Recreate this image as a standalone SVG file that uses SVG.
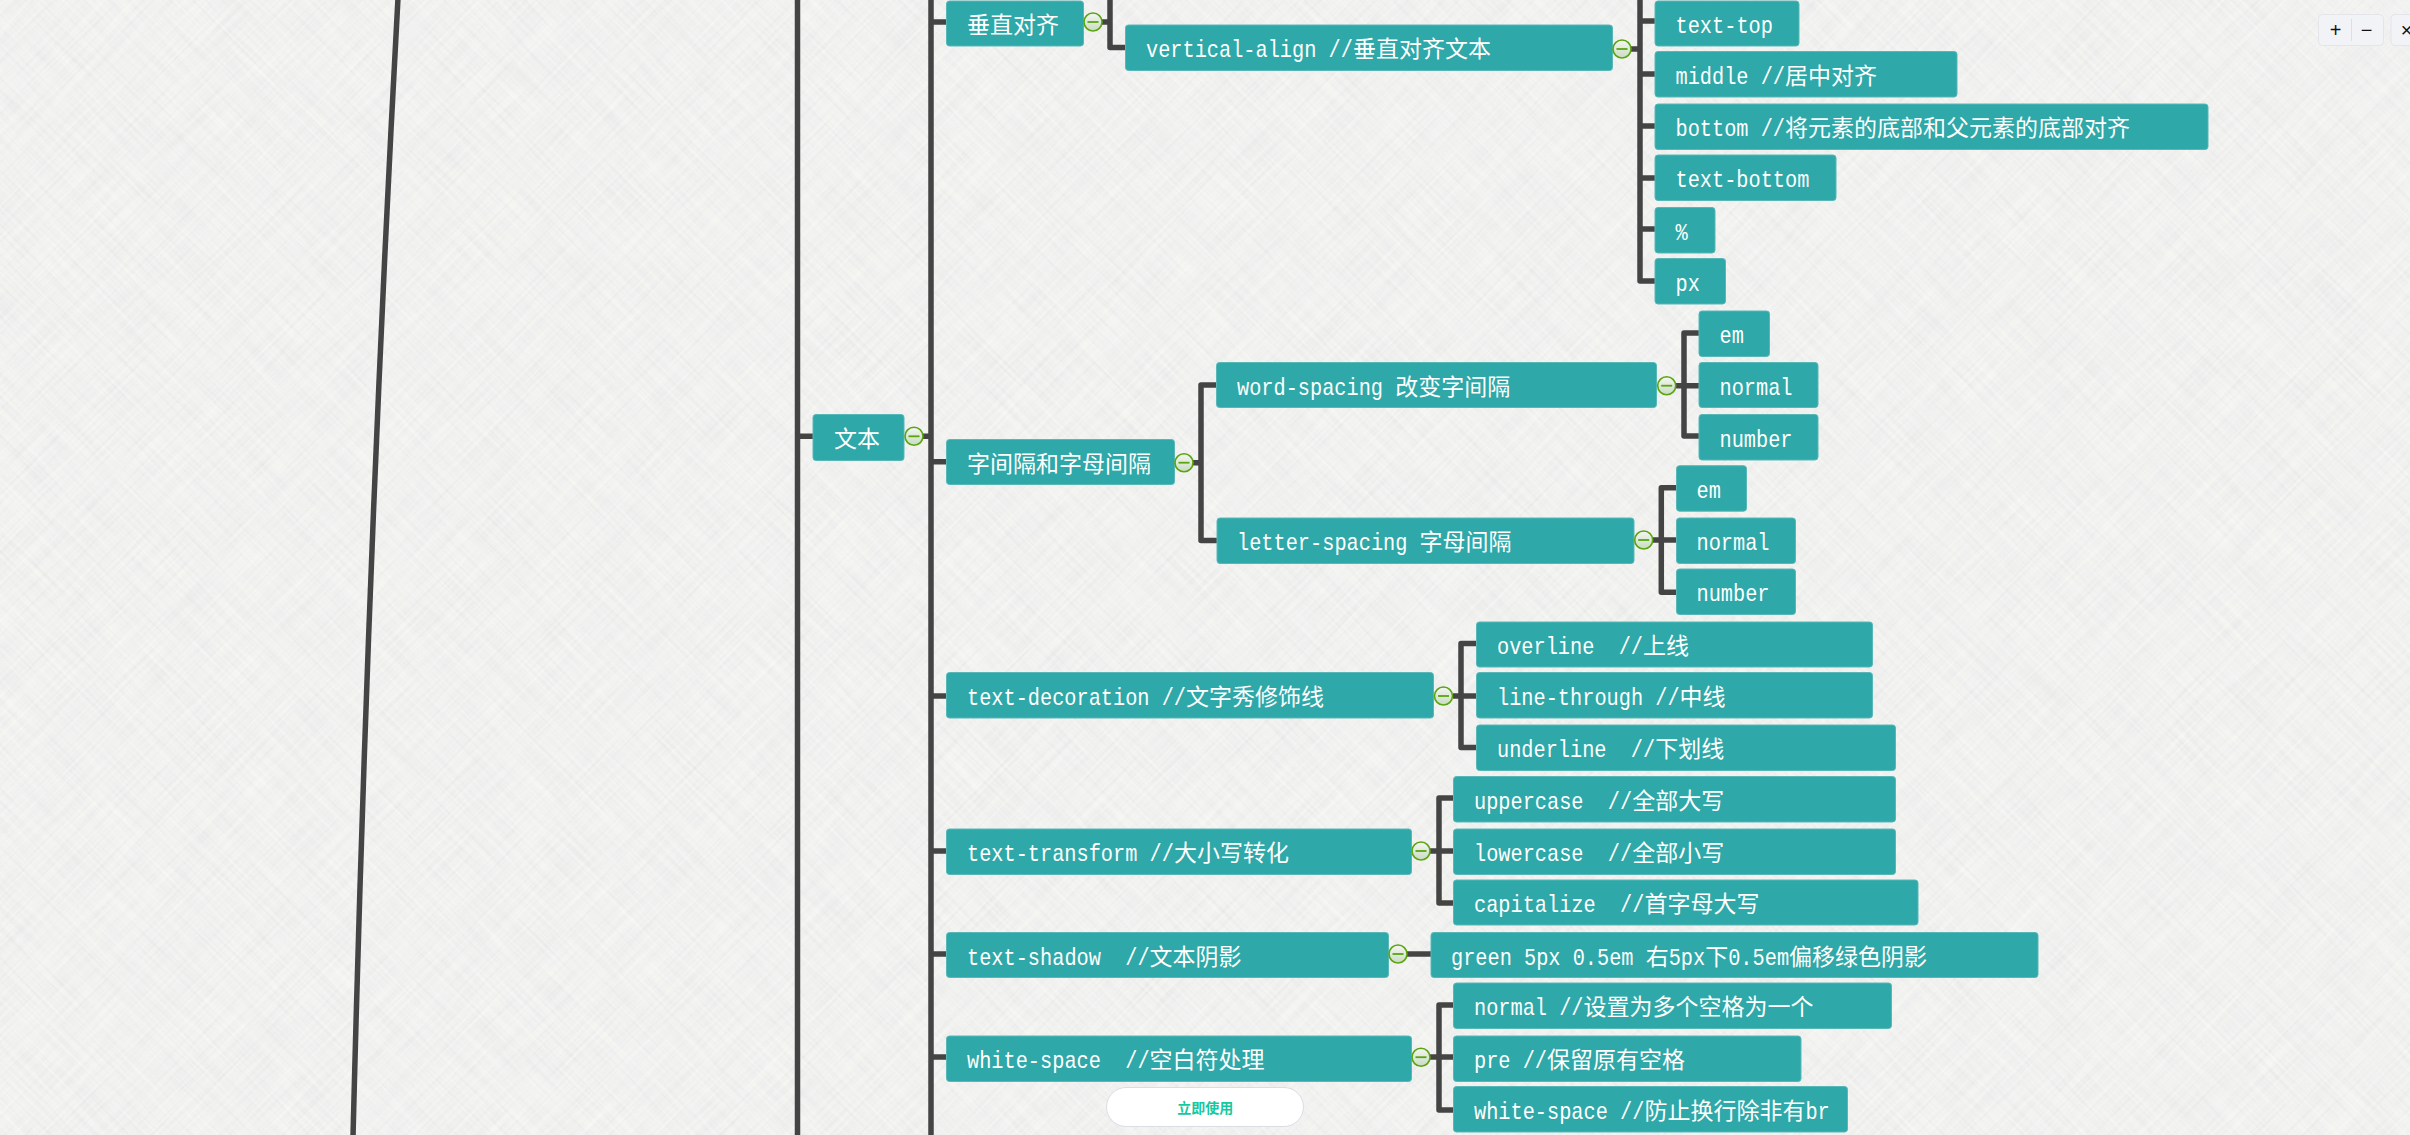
<svg xmlns="http://www.w3.org/2000/svg" width="2410" height="1135" viewBox="0 0 2410 1135">
<style>
.b{fill:#2ea8a8;stroke:#58b8b8;stroke-width:1}
.t{font-family:"Liberation Mono","Noto Sans CJK SC",monospace;font-size:24px;fill:#fff;white-space:pre}
.l{font-family:"Liberation Mono","Noto Sans CJK SC",monospace}
.c{font-family:"Noto Sans CJK SC",sans-serif;font-size:23px}
.k{fill:none;stroke:#444;stroke-width:5.5;stroke-linejoin:round}
.tg{fill:url(#tgf);stroke:#5aa510;stroke-width:1.6}
.dash{stroke:#5aa510;stroke-width:1.8}
.ctl{fill:#f1f3f6;stroke:#e3e5ea;stroke-width:1}
.ct{font-family:"Liberation Sans",sans-serif;font-size:20px;fill:#111;text-anchor:middle}
</style>
<defs>
<linearGradient id="tgf" x1="0" y1="0" x2="0" y2="1"><stop offset="0" stop-color="#f4f6f2"/><stop offset="1" stop-color="#c9dcc2"/></linearGradient>
<filter id="wl" x="0" y="0" width="1" height="1" color-interpolation-filters="sRGB"><feTurbulence type="fractalNoise" baseFrequency="0.014 0.38" numOctaves="2" seed="4"/><feColorMatrix type="matrix" values="0 0 0 0 1 0 0 0 0 1 0 0 0 0 .97 1.6 0 0 0 -0.62"/></filter>
<filter id="wd" x="0" y="0" width="1" height="1" color-interpolation-filters="sRGB"><feTurbulence type="fractalNoise" baseFrequency="0.012 0.32" numOctaves="2" seed="9"/><feColorMatrix type="matrix" values="0 0 0 0 .72 0 0 0 0 .72 0 0 0 0 .72 0 1.1 0 0 -0.44"/></filter>
</defs>
<g id="paper">
<rect width="2410" height="1135" fill="#f1f1f1"/>
<rect x="-1000" y="-1900" width="4400" height="3900" transform="rotate(45 1205 567)" filter="url(#wd)" opacity=".2"/>
<rect x="-1000" y="-1900" width="4400" height="3900" transform="rotate(-45 1205 567)" filter="url(#wd)" opacity=".2"/>
<rect x="-1000" y="-1900" width="4400" height="3900" transform="rotate(45 1205 567)" filter="url(#wl)" opacity=".45"/>
<rect x="-1000" y="-1900" width="4400" height="3900" transform="rotate(-45 1205 567)" filter="url(#wl)" opacity=".45"/>
</g>
<g id="connectors">
<path class="k" d="M398 -2Q367.6 553 353 1137"/>
<path class="k" d="M797.5 -5V1140M797.5 436.3H813"/>
<path class="k" d="M923 436.3H931M931 -5V1140M931 22H946M931 461.7H946M931 696H946M931 851H946M931 954H946M931 1057H946"/>
<path class="k" d="M1102 22H1110M1110 -5V47.5H1125"/>
<path class="k" d="M1631 49H1640M1640 -5V281H1655M1640 21H1655M1640 74H1655M1640 126H1655M1640 178H1655M1640 229H1655"/>
<path class="k" d="M1193 462.7H1201M1216 385H1201V540.5H1217"/>
<path class="k" d="M1676 385.7H1699M1699 333H1684V436H1699"/>
<path class="k" d="M1653 540H1676M1676 487.7H1661.3V592.3H1676"/>
<path class="k" d="M1453 696H1476M1476 643.5H1461V747.5H1476"/>
<path class="k" d="M1430 851H1453M1453 798H1439V903H1453"/>
<path class="k" d="M1407 954H1431"/>
<path class="k" d="M1430 1057H1453M1453 1005H1439V1110H1453"/>
</g>
<g id="n-wenben"><rect class="b" x="813" y="414.5" width="91" height="46" rx="3"/><text class="t" x="834" y="446.5"><tspan class="c">文本</tspan></text>
<circle class="tg" cx="914" cy="436.3" r="9"/><path class="dash" d="M908.5 436.3h11"/></g>
<g id="n-chuizhi"><rect class="b" x="946.5" y="1" width="137" height="45" rx="3"/><text class="t" x="967" y="33"><tspan class="c">垂直对齐</tspan></text>
<circle class="tg" cx="1093" cy="22" r="9"/><path class="dash" d="M1087.5 22h11"/></g>
<g id="n-valign"><rect class="b" x="1125.5" y="25" width="487" height="45.500" rx="3"/><text class="t" x="1146" y="57"><tspan class="l" textLength="206.900" lengthAdjust="spacingAndGlyphs">vertical-align //</tspan><tspan class="c">垂直对齐文本</tspan></text>
<circle class="tg" cx="1622" cy="49" r="9"/><path class="dash" d="M1616.500 49h11"/></g>
<g id="n-texttop"><rect class="b" x="1655" y="1" width="144" height="45" rx="3"/><text class="t" x="1675.500" y="33"><tspan class="l" textLength="97.400" lengthAdjust="spacingAndGlyphs">text-top</tspan></text></g>
<g id="n-middle"><rect class="b" x="1655" y="51.500" width="302" height="45.500" rx="3"/><text class="t" x="1675.500" y="83.500"><tspan class="l" textLength="109.500" lengthAdjust="spacingAndGlyphs">middle //</tspan><tspan class="c">居中对齐</tspan></text></g>
<g id="n-bottom"><rect class="b" x="1655" y="104" width="553" height="45.500" rx="3"/><text class="t" x="1675.500" y="136"><tspan class="l" textLength="109.500" lengthAdjust="spacingAndGlyphs">bottom //</tspan><tspan class="c">将元素的底部和父元素的底部对齐</tspan></text></g>
<g id="n-textbottom"><rect class="b" x="1655" y="155" width="181" height="45.500" rx="3"/><text class="t" x="1675.500" y="187"><tspan class="l" textLength="133.900" lengthAdjust="spacingAndGlyphs">text-bottom</tspan></text></g>
<g id="n-pct"><rect class="b" x="1655" y="207.500" width="60" height="45.500" rx="3"/><text class="t" x="1675.500" y="239.500"><tspan class="l" textLength="12.200" lengthAdjust="spacingAndGlyphs">%</tspan></text></g>
<g id="n-px"><rect class="b" x="1655" y="258.500" width="70.500" height="45.500" rx="3"/><text class="t" x="1675.500" y="290.500"><tspan class="l" textLength="24.300" lengthAdjust="spacingAndGlyphs">px</tspan></text></g>
<g id="n-spacing"><rect class="b" x="946.5" y="439.500" width="228" height="45" rx="3"/><text class="t" x="967" y="471.500"><tspan class="c">字间隔和字母间隔</tspan></text>
<circle class="tg" cx="1184" cy="462.700" r="9"/><path class="dash" d="M1178.500 462.700h11"/></g>
<g id="n-word"><rect class="b" x="1216.500" y="362.500" width="440" height="45" rx="3"/><text class="t" x="1237" y="394.500"><tspan class="l" textLength="158.200" lengthAdjust="spacingAndGlyphs">word-spacing </tspan><tspan class="c">改变字间隔</tspan></text>
<circle class="tg" cx="1666.700" cy="385.700" r="9"/><path class="dash" d="M1661.200 385.700h11"/></g>
<g id="n-em1"><rect class="b" x="1699" y="311" width="70.500" height="45.500" rx="3"/><text class="t" x="1719.500" y="343"><tspan class="l" textLength="24.300" lengthAdjust="spacingAndGlyphs">em</tspan></text></g>
<g id="n-normal1"><rect class="b" x="1699" y="362.500" width="119" height="45" rx="3"/><text class="t" x="1719.500" y="394.500"><tspan class="l" textLength="73" lengthAdjust="spacingAndGlyphs">normal</tspan></text></g>
<g id="n-number1"><rect class="b" x="1699" y="414.500" width="119" height="45.500" rx="3"/><text class="t" x="1719.500" y="446.500"><tspan class="l" textLength="73" lengthAdjust="spacingAndGlyphs">number</tspan></text></g>
<g id="n-letter"><rect class="b" x="1217" y="518" width="417" height="45.500" rx="3"/><text class="t" x="1237" y="550"><tspan class="l" textLength="182.600" lengthAdjust="spacingAndGlyphs">letter-spacing </tspan><tspan class="c">字母间隔</tspan></text>
<circle class="tg" cx="1643.700" cy="540" r="9"/><path class="dash" d="M1638.200 540h11"/></g>
<g id="n-em2"><rect class="b" x="1676.500" y="465.700" width="70" height="45.500" rx="3"/><text class="t" x="1696.500" y="497.700"><tspan class="l" textLength="24.300" lengthAdjust="spacingAndGlyphs">em</tspan></text></g>
<g id="n-normal2"><rect class="b" x="1676.500" y="518" width="119" height="45.500" rx="3"/><text class="t" x="1696.500" y="550"><tspan class="l" textLength="73" lengthAdjust="spacingAndGlyphs">normal</tspan></text></g>
<g id="n-number2"><rect class="b" x="1676.500" y="569" width="119" height="45.500" rx="3"/><text class="t" x="1696.500" y="601"><tspan class="l" textLength="73" lengthAdjust="spacingAndGlyphs">number</tspan></text></g>
<g id="n-decoration"><rect class="b" x="946.5" y="672.500" width="487" height="45.500" rx="3"/><text class="t" x="967" y="704.500"><tspan class="l" textLength="219" lengthAdjust="spacingAndGlyphs">text-decoration //</tspan><tspan class="c">文字秀修饰线</tspan></text>
<circle class="tg" cx="1443.500" cy="696" r="9"/><path class="dash" d="M1438 696h11"/></g>
<g id="n-overline"><rect class="b" x="1476.500" y="622" width="396" height="45" rx="3"/><text class="t" x="1497" y="654"><tspan class="l" textLength="146" lengthAdjust="spacingAndGlyphs">overline  //</tspan><tspan class="c">上线</tspan></text></g>
<g id="n-linethrough"><rect class="b" x="1476.500" y="672.500" width="396" height="45.500" rx="3"/><text class="t" x="1497" y="704.500"><tspan class="l" textLength="182.600" lengthAdjust="spacingAndGlyphs">line-through //</tspan><tspan class="c">中线</tspan></text></g>
<g id="n-underline"><rect class="b" x="1476.500" y="725" width="419" height="45.500" rx="3"/><text class="t" x="1497" y="757"><tspan class="l" textLength="158.200" lengthAdjust="spacingAndGlyphs">underline  //</tspan><tspan class="c">下划线</tspan></text></g>
<g id="n-transform"><rect class="b" x="946.5" y="829" width="465" height="45.500" rx="3"/><text class="t" x="967" y="861"><tspan class="l" textLength="206.900" lengthAdjust="spacingAndGlyphs">text-transform //</tspan><tspan class="c">大小写转化</tspan></text>
<circle class="tg" cx="1421" cy="851" r="9"/><path class="dash" d="M1415.500 851h11"/></g>
<g id="n-uppercase"><rect class="b" x="1453.500" y="776.500" width="442" height="45.500" rx="3"/><text class="t" x="1474" y="808.500"><tspan class="l" textLength="158.200" lengthAdjust="spacingAndGlyphs">uppercase  //</tspan><tspan class="c">全部大写</tspan></text></g>
<g id="n-lowercase"><rect class="b" x="1453.500" y="829" width="442" height="45.500" rx="3"/><text class="t" x="1474" y="861"><tspan class="l" textLength="158.200" lengthAdjust="spacingAndGlyphs">lowercase  //</tspan><tspan class="c">全部小写</tspan></text></g>
<g id="n-capitalize"><rect class="b" x="1453.500" y="880" width="464.500" height="45" rx="3"/><text class="t" x="1474" y="912"><tspan class="l" textLength="170.400" lengthAdjust="spacingAndGlyphs">capitalize  //</tspan><tspan class="c">首字母大写</tspan></text></g>
<g id="n-shadow"><rect class="b" x="946.5" y="932.500" width="442" height="45" rx="3"/><text class="t" x="967" y="964.500"><tspan class="l" textLength="182.600" lengthAdjust="spacingAndGlyphs">text-shadow  //</tspan><tspan class="c">文本阴影</tspan></text>
<circle class="tg" cx="1398" cy="954" r="9"/><path class="dash" d="M1392.500 954h11"/></g>
<g id="n-green"><rect class="b" x="1431" y="932.500" width="607" height="45" rx="3"/><text class="t" x="1451" y="964.500"><tspan class="l" textLength="194.700" lengthAdjust="spacingAndGlyphs">green 5px 0.5em </tspan><tspan class="c">右</tspan><tspan class="l" textLength="36.500" lengthAdjust="spacingAndGlyphs">5px</tspan><tspan class="c">下</tspan><tspan class="l" textLength="60.900" lengthAdjust="spacingAndGlyphs">0.5em</tspan><tspan class="c">偏移绿色阴影</tspan></text></g>
<g id="n-whitespace"><rect class="b" x="946.5" y="1036" width="465" height="45.500" rx="3"/><text class="t" x="967" y="1068"><tspan class="l" textLength="182.600" lengthAdjust="spacingAndGlyphs">white-space  //</tspan><tspan class="c">空白符处理</tspan></text>
<circle class="tg" cx="1421" cy="1057.200" r="9"/><path class="dash" d="M1415.500 1057.200h11"/></g>
<g id="n-normal3"><rect class="b" x="1453.500" y="983" width="438" height="45.500" rx="3"/><text class="t" x="1474" y="1015"><tspan class="l" textLength="109.500" lengthAdjust="spacingAndGlyphs">normal //</tspan><tspan class="c">设置为多个空格为一个</tspan></text></g>
<g id="n-pre"><rect class="b" x="1453.500" y="1036" width="347.500" height="45.500" rx="3"/><text class="t" x="1474" y="1068"><tspan class="l" textLength="73" lengthAdjust="spacingAndGlyphs">pre //</tspan><tspan class="c">保留原有空格</tspan></text></g>
<g id="n-nowrap"><rect class="b" x="1453.500" y="1086.500" width="394" height="45.500" rx="3"/><text class="t" x="1474" y="1118.500"><tspan class="l" textLength="170.400" lengthAdjust="spacingAndGlyphs">white-space //</tspan><tspan class="c">防止换行除非有</tspan><tspan class="l" textLength="24.300" lengthAdjust="spacingAndGlyphs">br</tspan></text></g>
<g id="use-button"><rect x="1106.500" y="1087.500" width="197" height="39" rx="19.500" fill="#fff" stroke="#d9dde6" stroke-width="1"/><text x="1205.300" y="1113" text-anchor="middle" font-family="Noto Sans CJK SC, sans-serif" font-size="14" font-weight="700" fill="#14c8a0">立即使用</text></g>
<g id="zoom-controls"><rect class="ctl" x="2318.500" y="14.500" width="65" height="31" rx="4"/><path d="M2351.500 19V41" stroke="#dcdfe4" stroke-width="1"/><text class="ct" x="2335.500" y="37">+</text><text class="ct" x="2366.500" y="37">−</text><rect class="ctl" x="2391" y="14.500" width="40" height="31" rx="4"/><text class="ct" x="2406.500" y="37">×</text></g>
</svg>
